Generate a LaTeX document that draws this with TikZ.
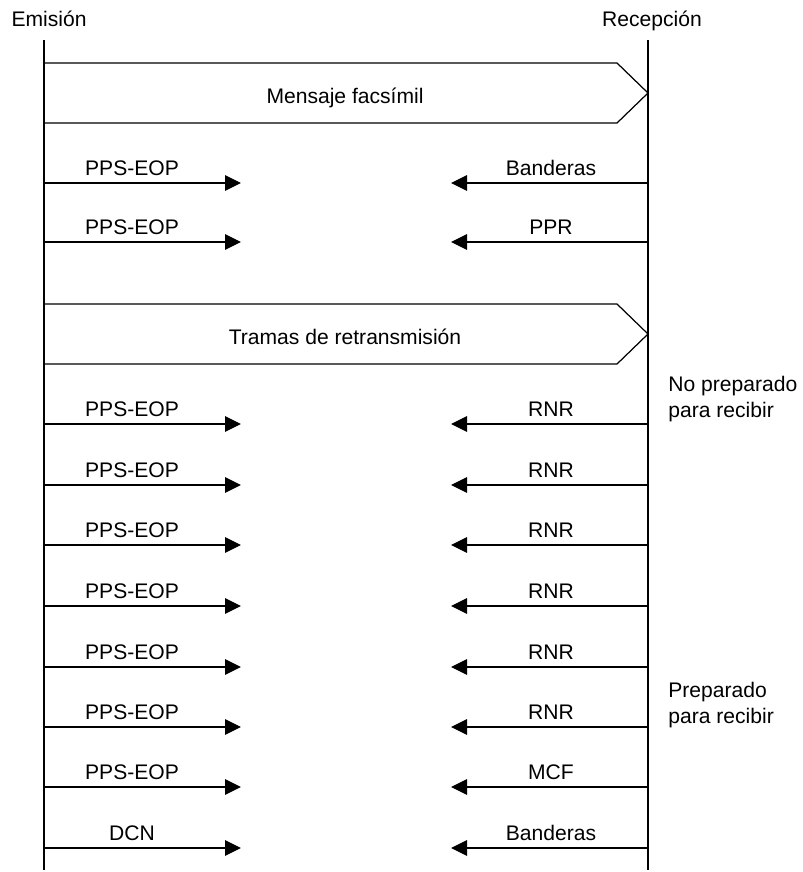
\documentclass[tikz,border=0pt]{standalone}
\usepackage{fontspec}
\setmainfont{Liberation Sans}
\usetikzlibrary{arrows.meta}

\begin{document}
\begin{tikzpicture}[
    x=0.02cm, y=-0.02cm,
    linea/.style={line width=0.7pt},
    flecha/.style={line width=0.7pt, -{Triangle[length=3.2mm, width=3.1mm]}},
    texto/.style={inner sep=0pt, font=\fontsize{12}{14.5}\selectfont},
    nota/.style={texto, align=left, anchor=base west}
]
\useasboundingbox (0,0) rectangle (803,872);

% Extremos
\node[texto, anchor=base] (emision) at (49,27) {Emisión};
\node[texto, anchor=base] (recepcion) at (652,27) {Recepción};
\coordinate (emiA) at (44,40);
\coordinate (emiB) at (44,870);
\coordinate (recA) at (648,40);
\coordinate (recB) at (648,870);
\draw[linea] (emiA) -- (emiB);
\draw[linea] (recA) -- (recB);

% Bloques
\draw[linea] (44,63) -- (617,63) -- (648,93) -- (617,123) -- (44,123);
\node[texto, anchor=base] (mensaje) at (345,103) {Mensaje facsímil};
\draw[linea] (44,304) -- (617,304) -- (648,334) -- (617,364) -- (44,364);
\node[texto, anchor=base] (tramas) at (345,344) {Tramas de retransmisión};

% Mensajes
\foreach \y/\ida/\vuelta [count=\n] in {183/PPS-EOP/Banderas, 242/PPS-EOP/PPR,
    424/PPS-EOP/RNR, 485/PPS-EOP/RNR, 545/PPS-EOP/RNR, 606/PPS-EOP/RNR,
    667/PPS-EOP/RNR, 727/PPS-EOP/RNR, 787/PPS-EOP/MCF, 848/DCN/Banderas} {
  \coordinate (emi\n) at (44,\y);
  \coordinate (rec\n) at (648,\y);
  \coordinate (ida\n) at (241,\y);
  \coordinate (vuelta\n) at (451,\y);
  \draw[flecha] (emi\n) -- (ida\n);
  \draw[flecha] (rec\n) -- (vuelta\n);
  \node[texto, anchor=base] (tida\n) at (132,\y-8) {\ida};
  \node[texto, anchor=base] (tvuelta\n) at (551,\y-8) {\vuelta};
}

% Notas
\node[nota] (nopreparado) at (668,417) {No preparado\\para recibir};
\node[nota] (preparado) at (668,723) {Preparado\\para recibir};

\end{tikzpicture}
\end{document}
